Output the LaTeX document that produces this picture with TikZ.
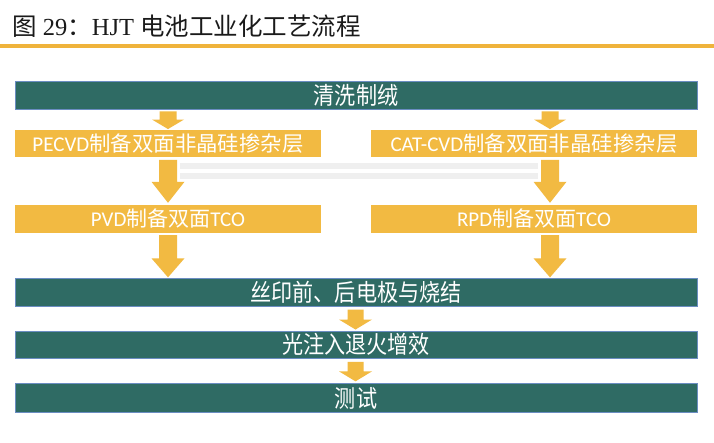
\documentclass[tikz,border=0pt]{standalone}
\usepackage{fontspec}
\setmainfont{Noto Sans CJK SC}
\newfontfamily\cjk{Noto Sans CJK SC}
\newfontfamily\cjkwide{Noto Sans CJK SC}[FakeStretch=1.02]
\newfontfamily\cjknarrow{Noto Sans CJK SC}[FakeStretch=0.88]
\newfontfamily\lat{Carlito}
\newfontfamily\ser{Liberation Serif}
\usetikzlibrary{calc}
\definecolor{tealc}{HTML}{2F6B64}
\definecolor{orangec}{HTML}{F2BA42}
\definecolor{edgec}{HTML}{6B8DC2}
\definecolor{rulec}{HTML}{EFB33B}
\definecolor{barc}{HTML}{EFEFEF}
\definecolor{titlec}{HTML}{1A1A1A}
\tikzset{
  tealbox/.style={fill=tealc, draw=edgec, line width=0.8pt, minimum width=682pt,
    minimum height=28.5pt, inner sep=0pt, text=white,
    font=\cjknarrow\fontsize{24}{24}\selectfont},
  orabox/.style={fill=orangec, draw=none, minimum height=27.5pt, inner sep=0pt,
    text=white, font=\cjk\fontsize{21}{21}\selectfont},
  arrowc/.style={fill=orangec}
}
\newcommand{\blockarr}[5]{\fill[arrowc] let \p1=#1, \p2=#2 in
  (\x1-#3,\y1) -- (\x1+#3,\y1) -- (\x1+#3,\y2+#5) -- (\x1+#4,\y2+#5) --
  (\x1,\y2) -- (\x1-#4,\y2+#5) -- (\x1-#3,\y2+#5) -- cycle;}
\begin{document}
\begin{tikzpicture}[x=1pt,y=-1pt]
\fill[white] (0,0) rectangle (714,442);
\useasboundingbox (0,0) rectangle (714,442);
% title
\node[anchor=west, inner sep=0pt, text=titlec, font=\ser\fontsize{24.5}{24.5}\selectfont]
  (title) at (12,26) {{\cjk 图} 29{\cjk ：}HJT {\cjk 电池工业化工艺流程}};
\fill[rulec] (0,44.3) rectangle (714,47.7);
% boxes
\node[tealbox] (t1) at (356,95.2) {清洗制绒};
\node[orabox, minimum width=306pt] (o1L) at (168,143.5) {{\lat PECVD}{\cjkwide 制备双面非晶硅掺杂层}};
\node[orabox, minimum width=326pt] (o1R) at (534,143.5) {{\lat CAT-CVD}{\cjkwide 制备双面非晶硅掺杂层}};
\node[orabox, minimum width=306pt, minimum height=28pt] (o2L) at (168,219) {{\lat PVD}制备双面{\lat TCO}};
\node[orabox, minimum width=326pt, minimum height=28pt] (o2R) at (534,219) {{\lat RPD}制备双面{\lat TCO}};
\node[tealbox] (t2) at (356,292.5) {丝印前、后电极与烧结};
\node[tealbox, minimum height=27.5pt] (t3) at (356,344.7) {光注入退火增效};
\node[tealbox] (t4) at (356,398) {测试};
% column positions
\coordinate (cL) at (168,0);
\coordinate (cR) at (550,0);
\coordinate (cM) at (355.5,0);
% faint bar
\fill[barc] (180,163) rectangle (538,169);
\fill[barc] (180,173) rectangle (538,179);
% arrows
\blockarr{($(cL |- t1.south)+(0,1.5)$)}{($(cL |- o1L.north)+(0,-0.5)$)}{8.5pt}{16pt}{9.5pt}
\blockarr{($(cR |- t1.south)+(0,1.5)$)}{($(cR |- o1R.north)+(0,-0.5)$)}{8.5pt}{16pt}{9.5pt}
\blockarr{($(cL |- o1L.south)+(0,2.5)$)}{($(cL |- o2L.north)+(0,-2)$)}{9pt}{16.5pt}{21pt}
\blockarr{($(cR |- o1R.south)+(0,2.5)$)}{($(cR |- o2R.north)+(0,-2)$)}{9pt}{16.5pt}{21pt}
\blockarr{($(cL |- o2L.south)+(0,2)$)}{($(cL |- t2.north)+(0,-0.5)$)}{9pt}{16.5pt}{19pt}
\blockarr{($(cR |- o2R.south)+(0,2)$)}{($(cR |- t2.north)+(0,-0.5)$)}{9pt}{16.5pt}{19pt}
\blockarr{($(cM |- t2.south)+(0,2.5)$)}{($(cM |- t3.north)+(0,-1)$)}{8pt}{16.5pt}{10pt}
\blockarr{($(cM |- t3.south)+(0,3)$)}{($(cM |- t4.north)+(0,-2)$)}{8pt}{16.5pt}{10pt}
\end{tikzpicture}
\end{document}
